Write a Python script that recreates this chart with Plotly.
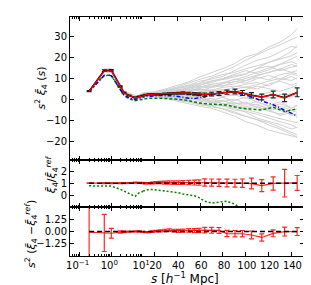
import numpy as np
import plotly.graph_objects as go
from plotly.subplots import make_subplots

# ---------------- data ----------------
S = [0.2, 0.6, 1.0, 1.9, 2.5, 3.6, 5.6, 7.5, 10, 12, 15, 18, 21, 25, 29, 33, 37, 41, 45,
     50, 55, 59, 64, 70, 76.5, 83.5, 90.5, 97, 105, 114, 124, 134, 145]

XI_MEAN = [4.1, 13.9, 14.0, 6.3, 3.4, 2.0, 1.0, 1.5, 2.0, 2.3, 2.5, 2.6, 2.5, 2.6, 2.8, 2.9, 3.0, 3.1, 3.2,
           3.0, 2.8, 2.6, 2.4, 2.7, 3.0, 3.6, 3.9, 3.2, 2.1, 1.3, 2.5, 0.9, 3.5]
XI_ERR = [0.2, 0.4, 0.4, 0.3, 0.2, 0.2, 0.2, 0.2, 0.2, 0.2, 0.25, 0.25, 0.3, 0.3, 0.35, 0.4, 0.4, 0.45, 0.5,
          0.55, 0.6, 0.7, 0.8, 0.85, 0.9, 1.0, 1.1, 1.2, 1.3, 1.4, 1.6, 1.8, 2.1]
XI_RED = [4.0, 13.7, 13.8, 6.1, 3.3, 2.0, 0.9, 1.4, 2.0, 2.3, 2.5, 2.6, 2.6, 2.7, 2.8, 3.0, 3.1, 3.1, 3.3,
          3.1, 2.9, 2.6, 2.5, 2.8, 3.1, 3.6, 3.8, 3.1, 2.0, 1.2, 2.4, 0.8, 3.4]
XI_BLUE = [4.0, 11.6, 11.5, 4.6, 2.2, 0.9, 0.0, 0.6, 1.2, 1.5, 1.7, 1.8, 1.9, 2.0, 2.0, 1.9, 1.8, 1.5, 1.0,
           0.7, 0.6, 0.8, 1.3, 2.6, 3.3, 3.7, 3.5, 2.6, 1.4, -0.6, -2.4, -5.0, -7.8]
XI_GREEN = [3.9, 11.7, 11.6, 4.4, 2.0, 0.5, -0.5, -0.1, 0.3, 0.5, 0.7, 0.8, 0.8, 0.7, 0.6, 0.5, 0.3, 0.2, 0.0,
            -0.5, -1.2, -1.6, -1.9, -2.2, -2.4, -2.6, -3.5, -4.2, -4.5, -4.9, -3.6, -5.6, -4.4]

RATIO = [1.0, 0.99, 0.99, 1.0, 1.0, 1.02, 1.05, 1.04, 1.02, 1.0, 1.0, 1.02, 1.05, 1.06, 1.05, 1.06, 1.05, 1.04, 1.05,
         1.06, 1.05, 1.05, 1.06, 1.05, 1.04, 1.02, 1.0, 1.0, 0.97, 0.8, 0.98, 1.0, 1.02]
RATIO_ERR = [0.02, 0.03, 0.03, 0.03, 0.03, 0.03, 0.04, 0.04, 0.05, 0.05, 0.06, 0.07, 0.08, 0.1, 0.12, 0.13, 0.14, 0.15, 0.16,
             0.18, 0.2, 0.22, 0.3, 0.3, 0.3, 0.32, 0.33, 0.35, 0.45, 0.5, 0.55, 1.15, 0.62]
RATIO_GREEN = [0.78, 0.77, 0.76, 0.5, 0.35, 0.15, -0.1, 0.2, 0.35, 0.42, 0.48, 0.47, 0.44, 0.38, 0.33, 0.3, 0.26, 0.2, 0.1,
               0.03, -0.05, -0.2, -0.5, -0.65, -0.55, -0.5, -0.75, -1.2, -1.6, -2.5, -2.0, -3.0, -2.0]

DIFF = [-0.05, -0.14, -0.17, -0.05, -0.02, 0.0, 0.02, 0.03, -0.03, -0.06, -0.05, 0.0, 0.05, 0.08, 0.12, 0.16, 0.1, 0.08, 0.1,
        0.12, 0.1, 0.12, 0.15, 0.13, 0.12, -0.2, -0.22, -0.22, -0.35, -0.6, -0.18, 0.0, 0.0]
DIFF_ERR = [3.5, 1.9, 0.5, 0.12, 0.08, 0.06, 0.05, 0.05, 0.05, 0.05, 0.06, 0.07, 0.08, 0.1, 0.12, 0.13, 0.14, 0.15, 0.16,
            0.18, 0.2, 0.22, 0.28, 0.3, 0.3, 0.32, 0.33, 0.33, 0.4, 0.37, 0.35, 0.45, 0.4]

REF_S = [0.2, 145]
REF_RATIO = [1, 1]
REF_DIFF = [0, 0]

MOCK_S = [0.2, 0.6, 1.0, 2.5, 6, 10, 20, 30, 40, 50, 60, 70, 80, 90, 100, 110, 120, 130, 140, 145]
MOCKS = [
    [4.0, 14.2, 14.3, 3.8, 1.2, 2.6, 2.8, 3.5, 4.2, 5.0, 6.1, 7.4, 8.2, 9.5, 11.0, 13.2, 15.1, 17.0, 19.5, 20.8],
    [4.1, 13.5, 13.6, 3.2, 0.6, 2.0, 2.1, 2.0, 1.5, 0.8, 0.2, -0.8, -1.9, -3.0, -4.6, -6.2, -7.5, -9.1, -10.4, -11.0],
    [4.0, 14.5, 14.6, 4.1, 1.5, 3.0, 3.5, 4.8, 6.1, 7.9, 9.8, 11.2, 13.5, 15.8, 18.9, 21.5, 24.0, 26.2, 28.8, 30.0],
    [3.9, 13.9, 14.0, 3.6, 0.9, 2.4, 2.4, 2.9, 3.2, 2.6, 3.8, 4.5, 3.1, 4.9, 6.2, 5.1, 7.5, 8.8, 6.9, 8.0],
    [4.1, 13.2, 13.4, 3.0, 0.3, 1.7, 1.6, 1.0, 0.1, -0.9, -2.1, -3.5, -4.2, -5.8, -7.9, -9.6, -12.1, -14.0, -16.5, -17.8],
    [4.0, 14.1, 14.4, 3.9, 1.3, 2.8, 3.0, 3.9, 5.2, 6.8, 8.0, 10.5, 12.1, 13.0, 14.8, 16.2, 17.9, 19.5, 21.0, 22.5],
    [4.0, 13.8, 13.9, 3.5, 0.8, 2.3, 2.6, 2.2, 2.9, 1.8, 1.2, 2.5, 0.9, -0.5, 1.3, -1.2, -2.8, -1.0, -3.9, -3.0],
    [4.1, 14.0, 14.2, 3.7, 1.1, 2.7, 3.2, 4.1, 4.9, 5.5, 7.2, 8.1, 9.9, 11.5, 12.4, 14.9, 16.0, 13.8, 15.5, 16.2],
    [3.9, 13.6, 13.7, 3.3, 0.5, 1.9, 1.9, 1.5, 1.9, 0.9, -0.8, -1.5, -0.2, -2.5, -4.0, -3.2, -5.5, -6.8, -5.2, -6.0],
    [4.0, 13.9, 14.1, 3.6, 1.0, 2.5, 2.9, 3.3, 3.9, 4.8, 4.2, 5.9, 6.8, 7.5, 9.1, 10.8, 9.5, 11.9, 13.0, 12.3],
    [4.2, 14.6, 14.8, 4.2, 1.6, 3.2, 3.8, 5.2, 6.8, 8.5, 11.0, 12.8, 14.9, 17.2, 20.5, 22.0, 25.1, 27.5, 31.0, 34.0],
    [4.0, 13.4, 13.5, 3.1, 0.5, 1.9, 2.2, 1.8, 0.9, 1.5, 0.0, -1.2, -2.9, -4.1, -6.0, -8.8, -10.2, -11.9, -14.0, -13.2],
    [4.0, 14.0, 14.0, 3.6, 1.0, 2.4, 2.7, 3.0, 3.6, 4.0, 5.1, 4.6, 5.9, 6.5, 5.8, 7.2, 8.9, 10.1, 9.2, 10.5],
    [3.9, 13.1, 13.2, 2.9, 0.2, 1.5, 1.4, 0.5, -0.8, -1.9, -3.2, -4.1, -5.9, -7.8, -10.5, -12.2, -14.5, -16.0, -17.2, -18.0],
    [4.1, 14.2, 14.3, 3.8, 1.2, 2.7, 3.1, 3.7, 4.5, 5.9, 6.9, 8.8, 10.2, 12.0, 13.9, 12.5, 14.2, 16.8, 18.1, 17.0],
    [4.0, 13.8, 13.9, 3.5, 0.9, 2.3, 2.5, 2.7, 2.1, 3.0, 2.4, 1.6, 2.8, 1.9, 3.5, 2.2, 0.8, 2.6, 1.5, 2.9],
    [4.0, 13.5, 13.6, 3.2, 0.6, 1.9, 2.0, 1.2, 0.6, -0.4, -1.3, -2.8, -3.0, -4.9, -5.5, -7.0, -8.9, -10.5, -12.0, -13.5],
    [4.1, 14.3, 14.5, 4.0, 1.4, 2.9, 3.4, 4.4, 5.8, 7.0, 8.9, 9.8, 11.2, 14.0, 16.5, 18.9, 20.2, 22.8, 25.5, 24.8],
    [3.9, 13.7, 13.8, 3.4, 0.7, 2.2, 2.3, 2.5, 1.8, 2.4, 1.0, 0.5, -1.0, 0.3, -1.8, -2.5, -4.2, -3.1, -5.0, -4.5],
    [4.0, 14.0, 14.2, 3.7, 1.1, 2.6, 2.9, 3.6, 3.1, 4.2, 5.5, 6.2, 7.9, 8.5, 10.2, 11.8, 12.9, 14.5, 16.8, 15.9],
    [4.0, 13.6, 13.7, 3.3, 0.5, 1.8, 1.8, 1.3, 1.0, 0.2, 0.9, -0.4, 1.2, -1.5, -2.2, -0.9, -3.5, -2.0, -4.1, -2.5],
    [4.1, 14.2, 14.4, 3.9, 1.3, 2.8, 3.3, 4.0, 5.5, 6.2, 7.8, 9.0, 9.6, 10.9, 12.1, 15.0, 17.9, 19.9, 23.1, 26.0],
    [4.0, 13.9, 14.0, 3.6, 0.9, 2.4, 2.6, 2.4, 3.3, 3.9, 3.0, 4.1, 5.0, 3.9, 4.8, 6.5, 5.2, 4.0, 5.8, 7.0],
    [3.9, 13.3, 13.4, 3.0, 0.4, 1.7, 1.7, 1.1, -0.3, -1.2, -2.5, -3.0, -4.5, -6.5, -8.0, -9.3, -11.0, -13.2, -15.5, -16.8],
    [4.0, 13.8, 14.0, 3.5, 1.0, 2.5, 2.7, 3.4, 4.6, 3.8, 5.9, 7.1, 6.4, 8.8, 7.9, 10.1, 11.6, 9.8, 12.4, 11.5],
    [4.0, 13.7, 13.8, 3.4, 0.8, 2.2, 2.4, 2.1, 0.8, 1.9, -0.5, 0.6, -2.1, -1.4, -3.3, -2.1, -4.6, -7.5, -6.1, -8.5],
    [4.1, 14.1, 14.2, 3.8, 1.2, 2.6, 3.0, 3.8, 4.0, 5.6, 6.4, 6.0, 7.6, 9.9, 9.0, 11.4, 13.2, 14.8, 13.1, 14.0],
    [3.9, 13.6, 13.7, 3.3, 0.6, 2.1, 2.2, 2.6, 2.3, 1.4, 2.1, 3.3, 1.5, 2.4, 0.6, 1.9, 3.6, 1.2, 3.0, 1.8],
    [4.0, 14.0, 14.1, 3.7, 1.1, 2.6, 2.8, 3.1, 2.7, 3.6, 4.9, 3.9, 4.3, 6.1, 7.4, 8.2, 6.6, 9.4, 11.0, 9.9],
    [4.0, 13.5, 13.6, 3.2, 0.7, 2.0, 2.0, 1.6, 1.2, 0.4, 0.8, -1.0, -0.6, -2.0, -1.1, -3.9, -5.0, -4.2, -7.6, -7.0],
]

LOG_TICKS = [0.1, 1, 10]
LOG_TICKTEXT = ["10<sup>−1</sup>", "10<sup>0</sup>", "10<sup>1</sup>"]
LOG_MINOR = [0.05, 0.06, 0.07, 0.08, 0.09, 0.2, 0.3, 0.4, 0.5, 0.6, 0.7, 0.8, 0.9,
             2, 3, 4, 5, 6, 7, 8, 9]
LIN_TICKS = [20, 40, 60, 80, 100, 120, 140]
Y1_TICKS = [-20, -10, 0, 10, 20, 30]
Y2_TICKS = [0, 1, 2]
Y3_TICKS = [-1.25, 0, 1.25]
Y3_TICKTEXT = ["−1.25", "0.00", "1.25"]

# ---------------- figure ----------------
fig = make_subplots(rows=3, cols=2, row_heights=[144, 47, 49], column_widths=[75, 165],
                    horizontal_spacing=0, vertical_spacing=0)

GREY = "#d0d0d0"
RED = "rgba(255,0,0,0.85)"

for col in (1, 2):
    # --- top panel ---
    for m in MOCKS:
        fig.add_trace(go.Scatter(x=MOCK_S, y=m, mode="lines",
                                 line=dict(color=GREY, width=1), showlegend=False,
                                 hoverinfo="skip"), row=1, col=col)
    fig.add_trace(go.Scatter(x=S, y=XI_GREEN, mode="lines",
                             line=dict(color="#008000", width=1.5, dash="3px,2px"),
                             showlegend=False), row=1, col=col)
    fig.add_trace(go.Scatter(x=S, y=XI_BLUE, mode="lines",
                             line=dict(color="#0000ff", width=1.5, dash="4px,2px,1px,2px"),
                             showlegend=False), row=1, col=col)
    fig.add_trace(go.Scatter(x=S, y=XI_MEAN, mode="lines",
                             line=dict(color="black", width=1.5),
                             error_y=dict(type="data", array=XI_ERR, color="#222222",
                                          thickness=1.2, width=2.5),
                             showlegend=False), row=1, col=col)
    fig.add_trace(go.Scatter(x=S, y=XI_RED, mode="lines",
                             line=dict(color="red", width=1.2),
                             showlegend=False), row=1, col=col)

    # --- middle panel ---
    fig.add_trace(go.Scatter(x=S, y=RATIO_GREEN, mode="lines",
                             line=dict(color="#008000", width=1.5, dash="2px,2px"),
                             showlegend=False), row=2, col=col)
    fig.add_trace(go.Scatter(x=S, y=RATIO, mode="lines",
                             line=dict(color=RED, width=1.2),
                             error_y=dict(type="data", array=RATIO_ERR, color=RED,
                                          thickness=1.2, width=2.5),
                             showlegend=False), row=2, col=col)
    fig.add_trace(go.Scatter(x=REF_S, y=REF_RATIO, mode="lines",
                             line=dict(color="black", width=1.5, dash="5px,3px"),
                             showlegend=False), row=2, col=col)

    # --- bottom panel ---
    fig.add_trace(go.Scatter(x=S, y=DIFF, mode="lines",
                             line=dict(color=RED, width=1.2),
                             error_y=dict(type="data", array=DIFF_ERR, color=RED,
                                          thickness=1.2, width=2.5),
                             showlegend=False), row=3, col=col)
    fig.add_trace(go.Scatter(x=REF_S, y=REF_DIFF, mode="lines",
                             line=dict(color="black", width=1.5, dash="5px,3px"),
                             showlegend=False), row=3, col=col)

axis_common = dict(showgrid=False, zeroline=False, showline=True, linecolor="black",
                   linewidth=1, ticks="inside", tickcolor="black", ticklen=4)

for row in (1, 2, 3):
    fig.update_xaxes(type="log", range=[np.log10(0.05), 1.0005], tickvals=LOG_TICKS,
                     ticktext=LOG_TICKTEXT, mirror="allticks",
                     minor=dict(ticks="inside", ticklen=2, tickcolor="black", tickvals=LOG_MINOR),
                     showticklabels=(row == 3), ticklabelshift=-2, row=row, col=1, **axis_common)
    fig.update_xaxes(range=[10, 151], tickvals=LIN_TICKS, mirror="allticks",
                     showticklabels=(row == 3), ticklabelshift=1, row=row, col=2, **axis_common)

yspec = {1: dict(range=[-29, 39.5], tickvals=Y1_TICKS),
         2: dict(range=[-1, 2.9], tickvals=Y2_TICKS),
         3: dict(range=[-2.5, 2.5], tickvals=Y3_TICKS, ticktext=Y3_TICKTEXT)}
for row, spec in yspec.items():
    fig.update_yaxes(row=row, col=1, mirror=False, **spec, **axis_common)
    fig.update_yaxes(row=row, col=2, side="right", showticklabels=False, mirror=False,
                     **spec, **axis_common)

TITLE_FONT = dict(family="DejaVu Sans", size=11, color="black")
fig.add_annotation(text="<i>s</i><sup>2</sup> <i>ξ̄</i><sub>4</sub> (<i>s</i>)", textangle=-90,
                   xref="paper", yref="paper", x=-0.125, y=0.704, showarrow=False,
                   xanchor="center", yanchor="middle", font=TITLE_FONT)
fig.add_annotation(text="<i>ξ̄</i><sub>4</sub>/<i>ξ̄</i><sub>4</sub><sup><i>ref</i></sup>", textangle=-90,
                   xref="paper", yref="paper", x=-0.079, y=0.34, showarrow=False,
                   xanchor="center", yanchor="middle", font=TITLE_FONT)
fig.add_annotation(text="<i>s</i><sup>2</sup> (<i>ξ̄</i><sub>4</sub> −<i>ξ̄</i><sub>4</sub><sup><i>ref</i></sup>)",
                   textangle=-90, xref="paper", yref="paper", x=-0.167, y=0.092, showarrow=False,
                   xanchor="center", yanchor="middle", font=TITLE_FONT)
fig.add_annotation(text="<i>s</i> [<i>h</i><sup>−1</sup> Mpc]", xref="paper", yref="paper",
                   x=0.49, y=-0.092, showarrow=False, xanchor="center", yanchor="middle",
                   font=dict(family="DejaVu Sans", size=12, color="black"))

fig.update_layout(width=311, height=285, margin=dict(l=62, r=9, t=8, b=37),
                  paper_bgcolor="white", plot_bgcolor="white", showlegend=False,
                  font=dict(family="DejaVu Sans", size=10, color="black"))

fig.write_html("out.html")
